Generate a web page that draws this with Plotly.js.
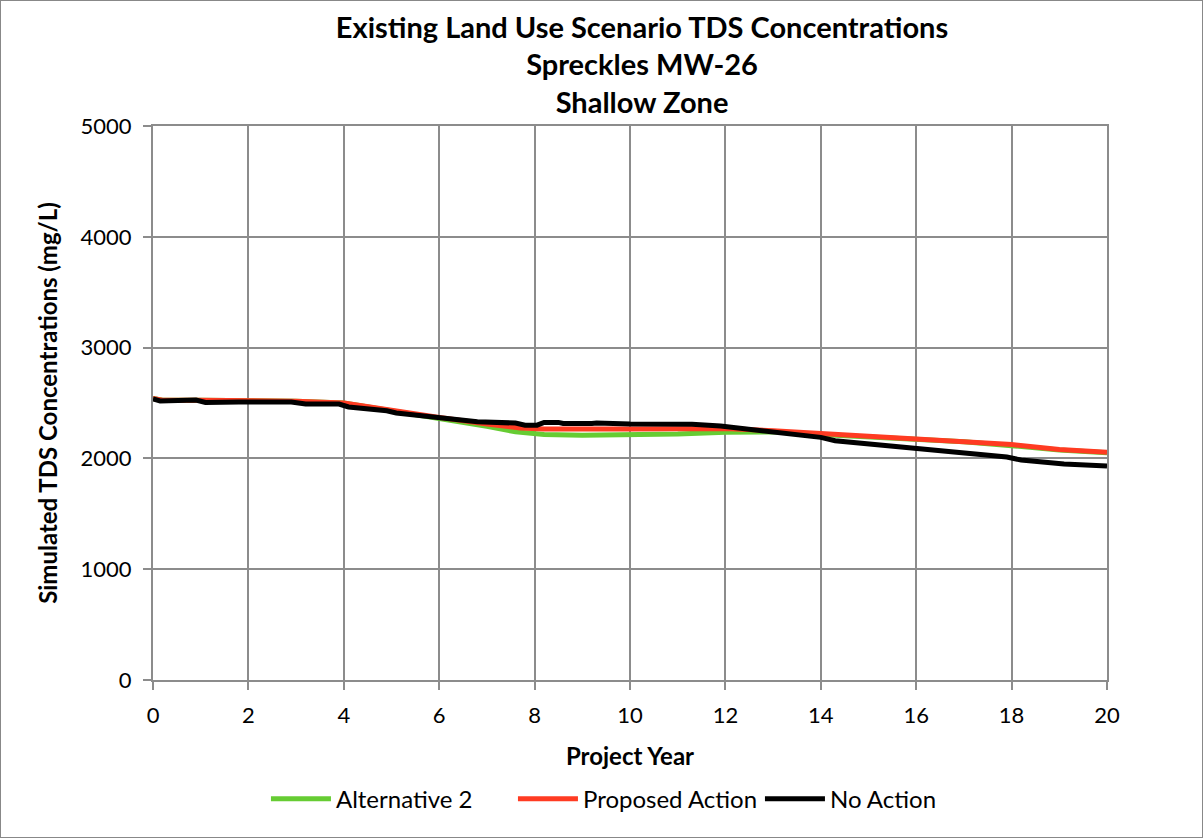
<!DOCTYPE html>
<html>
<head>
<meta charset="utf-8">
<script src="https://cdn.plot.ly/plotly-3.0.1.min.js"></script>
<style>
html,body{margin:0;padding:0;background:#fff;}
#chart{width:1203px;height:838px;}
#frame{position:absolute;left:0;top:0;width:1201px;height:836px;border:1px solid #888;pointer-events:none;}
</style>
</head>
<body>
<div id="chart"></div>
<div id="frame"></div>
<script>
// Alternative 2
const altX = [0, 0.2, 1, 2, 3, 4, 5, 6, 6.5, 7, 7.6, 8.2, 9, 10, 11, 12, 13, 14, 15, 16, 17, 18, 19, 20];
const altY = [2540, 2525, 2525, 2525, 2515, 2500, 2430, 2365, 2320, 2290, 2240, 2215, 2210, 2210, 2220, 2235, 2240, 2215, 2195, 2175, 2150, 2115, 2075, 2050];
// Proposed Action
const propX = [0, 0.2, 1, 2, 3, 4, 5, 6, 7, 7.7, 8.2, 9, 10, 11, 12, 13, 14, 15, 16, 17, 18, 19, 20];
const propY = [2540, 2525, 2525, 2525, 2515, 2500, 2430, 2370, 2310, 2275, 2265, 2262, 2265, 2268, 2270, 2250, 2225, 2205, 2185, 2160, 2125, 2080, 2055];
// No Action
const noX = [0, 0.15, 0.9, 1.1, 1.8, 2.9, 3.2, 3.9, 4.1, 4.9, 5.1, 6.0, 6.4, 6.8, 7.6, 7.8, 8.05, 8.2, 8.5, 8.6, 9.2, 9.3, 10, 11.3, 11.9, 12.7, 13.1, 13.6, 14, 14.3, 15, 16, 17, 17.9, 18.2, 19.1, 20];
const noY = [2536, 2518, 2527, 2505, 2509, 2509, 2491, 2491, 2464, 2430, 2410, 2365, 2355, 2330, 2319, 2300, 2300, 2325, 2325, 2315, 2315, 2320, 2310, 2308, 2292, 2256, 2229, 2211, 2190, 2160, 2130, 2094, 2055, 2013, 1985, 1950, 1931];

const seriesNames = ["Alternative 2", "Proposed Action", "No Action"];
const xTicks = [0, 2, 4, 6, 8, 10, 12, 14, 16, 18, 20];
const yTicks = [0, 1000, 2000, 3000, 4000, 5000];

const FONT = "Lato, 'Open Sans', sans-serif";
const traces = [
  {x: altX, y: altY, name: seriesNames[0], mode: "lines", line: {color: "#66cc33", width: 5}},
  {x: propX, y: propY, name: seriesNames[1], mode: "lines", line: {color: "#ff3b22", width: 5}},
  {x: noX, y: noY, name: seriesNames[2], mode: "lines", line: {color: "#000000", width: 5}}
];
const axisCommon = {
  showgrid: true, gridcolor: "#8c8c8c", gridwidth: 2,
  showline: true, linecolor: "#8c8c8c", linewidth: 2, mirror: true,
  ticks: "outside", ticklen: 8, tickwidth: 2, tickcolor: "#8c8c8c",
  ticklabelstandoff: 7,
  zeroline: false, tickfont: {family: FONT, size: 22, color: "#000"}
};
const layout = {
  width: 1203, height: 838,
  margin: {l: 153, r: 96, t: 126, b: 158},
  paper_bgcolor: "#fff", plot_bgcolor: "#fff",
  font: {family: FONT, color: "#000"},
  title: {
    text: "<b>Existing Land Use Scenario TDS Concentrations<br>Spreckles MW-26<br>Shallow Zone</b>",
    font: {family: FONT, size: 29, color: "#000"},
    x: 0.5126, xref: "paper", xanchor: "center",
    y: 0.955, yref: "container", yanchor: "top"
  },
  xaxis: Object.assign({}, axisCommon, {
    range: [0, 20], tickvals: xTicks, ticktext: xTicks.map(String),
    title: {text: "<b>Project Year</b>", font: {family: FONT, size: 24, color: "#000"}, standoff: 21}
  }),
  yaxis: Object.assign({}, axisCommon, {
    range: [0, 5000], tickvals: yTicks, ticktext: yTicks.map(String),
    title: {text: "<b>Simulated TDS Concentrations (mg/L)</b>", font: {family: FONT, size: 24, color: "#000"}, standoff: 16}
  }),
  showlegend: true,
  legend: {
    orientation: "h", x: 0.1184, xanchor: "left", y: -0.215, yanchor: "middle",
    font: {family: FONT, size: 24, color: "#000"}, itemwidth: 60, traceorder: "normal",
    entrywidth: 172, entrywidthmode: "pixels"
  }
};
Plotly.newPlot("chart", traces, layout, {displayModeBar: false, staticPlot: true});
</script>
</body>
</html>
